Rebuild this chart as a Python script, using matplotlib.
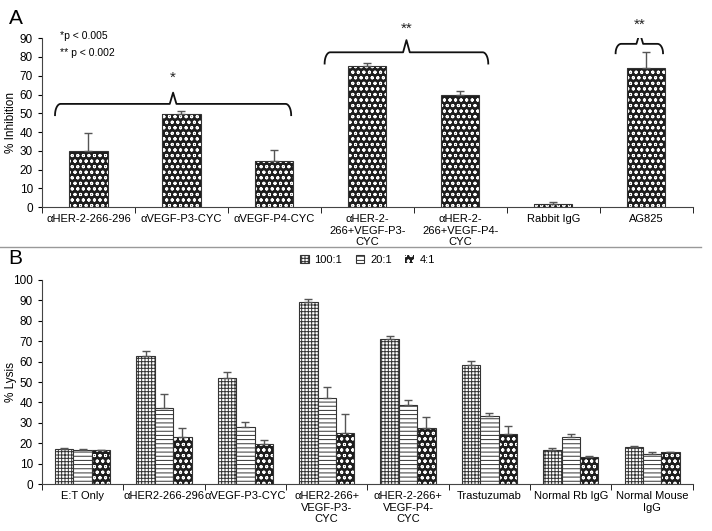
import numpy as np
import matplotlib
matplotlib.use("Agg")
import matplotlib.pyplot as plt

plt.rcParams["font.family"] = ["Liberation Sans", "DejaVu Sans"]
plt.rcParams["hatch.linewidth"] = 0.7

# Panel A: % inhibition
A_LABELS = ["αHER-2-266-296", "αVEGF-P3-CYC", "αVEGF-P4-CYC",
            "αHER-2-\n266+VEGF-P3-\nCYC", "αHER-2-\n266+VEGF-P4-\nCYC",
            "Rabbit IgG", "AG825"]
A_VALUES = [30, 49.5, 24.5, 75, 60, 1.8, 74]
A_ERR = [9.5, 1.5, 6, 1.8, 2, 0.8, 8.5]

# brackets: (x_left, x_right, x_peak, y_end, y_line, y_peak, label, y_label)
A_BRACKETS = [
    (-0.36, 2.18, 0.91, 49, 55, 61, "*", 69),
    (2.54, 4.30, 3.42, 76.5, 82.5, 89, "**", 95),
    (5.67, 6.18, 5.93, 82, 87, 93, "**", 97),
]

# Panel B: % lysis at three E:T ratios
B_LABELS = ["E:T Only", "αHER2-266-296", "αVEGF-P3-CYC",
            "αHER2-266+\nVEGF-P3-\nCYC", "αHER-2-266+\nVEGF-P4-\nCYC",
            "Trastuzumab", "Normal Rb IgG", "Normal Mouse\nIgG"]
B_SERIES = ["100:1", "20:1", "4:1"]
B_100 = [17, 62.7, 52, 89.4, 71, 58.5, 16.7, 18]
B_20 = [16.5, 37.4, 28, 42, 38.7, 33.2, 23.2, 14.7]
B_4 = [16.5, 23, 19.6, 25, 27.6, 24.7, 13.2, 15.5]
B_100_ERR = [0.5, 2.3, 3, 1.1, 1.7, 1.6, 0.8, 0.4]
B_20_ERR = [0.8, 6.6, 2.5, 5.5, 2.5, 1.6, 1.1, 1.1]
B_4_ERR = [0.4, 4.6, 2.1, 9.3, 5.4, 3.7, 0.4, 0.4]

DOTS = "ooo"


def draw_bars(ax, x, h, width, style, label=None):
    if style == "dots":
        bars = ax.bar(x, h, width, color="#1e1e1e", edgecolor="white",
                      hatch=DOTS, linewidth=0, zorder=2, label=label)
        ax.bar(x, h, width, color="none", edgecolor="#333333",
               linewidth=0.8, zorder=3)
    else:
        bars = ax.bar(x, h, width, color="white", edgecolor="#333333",
                      hatch=style, linewidth=0.8, zorder=2, label=label)
    return bars


def draw_errors(ax, x, h, err):
    err = np.asarray(err)
    ax.errorbar(x, h, yerr=[np.zeros_like(err), err], fmt="none",
                ecolor="#555555", elinewidth=1, capsize=3, capthick=1,
                zorder=4)


def style_axes(ax, n, ymax, ystep, ylabel):
    ax.set_xlim(-0.5, n - 0.5)
    ax.set_ylim(0, ymax)
    ax.set_yticks(np.arange(0, ymax + 1, ystep))
    ax.set_xticks(np.arange(n), minor=False)
    ax.tick_params(axis="x", which="major", length=0, labelsize=8, pad=5)
    ax.set_xticks(np.arange(n + 1) - 0.5, minor=True)
    ax.tick_params(axis="x", which="minor", length=4, direction="out")
    ax.tick_params(axis="y", labelsize=8.5, length=3)
    ax.spines["top"].set_visible(False)
    ax.spines["right"].set_visible(False)
    for s in ("left", "bottom"):
        ax.spines[s].set_color("#444444")
    ax.set_ylabel(ylabel, fontsize=8.5)
    ax.yaxis.set_label_coords(-0.039, 0.5)


def bracket(ax, x0, x1, xp, y_end, y_line, y_peak):
    r = 0.06
    ry = (y_line - y_end)
    t = np.linspace(0, np.pi / 2, 15)
    lx = x0 + r * (1 - np.cos(t))
    ly = y_end + ry * np.sin(t)
    mx = [x0 + r, xp - r * 0.6, xp, xp + r * 0.6, x1 - r]
    my = [y_line, y_line, y_peak, y_line, y_line]
    rx = x1 - r * (1 - np.cos(t[::-1]))
    rya = y_end + ry * np.sin(t[::-1])
    xs = np.concatenate([lx, mx, rx])
    ys = np.concatenate([ly, my, rya])
    ax.plot(xs, ys, color="#111111", lw=1.3, zorder=5, solid_joinstyle="round")


fig = plt.figure(figsize=(7.12, 5.31), dpi=100)

# ---- Panel A ----
axA = fig.add_axes([0.059, 0.610, 0.914, 0.318])
xa = np.arange(len(A_LABELS))
draw_bars(axA, xa, A_VALUES, 0.41, "dots")
draw_errors(axA, xa, A_VALUES, A_ERR)
style_axes(axA, len(A_LABELS), 90, 10, "% Inhibition")
axA.set_xticklabels(A_LABELS, va="top")
for x0, x1, xp, ye, yl, yp, lab, ylab in A_BRACKETS:
    bracket(axA, x0, x1, xp, ye, yl, yp)
    axA.text(xp, ylab, lab, ha="center", va="center", fontsize=11,
             color="#222222")
axA.text(-0.31, 91, "*p < 0.005", fontsize=7.5, va="center", clip_on=False)
axA.text(-0.31, 82, "** p < 0.002", fontsize=7.5, va="center")

# ---- Panel B ----
axB = fig.add_axes([0.059, 0.0885, 0.914, 0.3842])
xb = np.arange(len(B_LABELS))
w = 0.226
handles = []
for off, vals, errs, st, name in [(-w, B_100, B_100_ERR, "+++++", B_SERIES[0]),
                                  (0, B_20, B_20_ERR, "----", B_SERIES[1]),
                                  (w, B_4, B_4_ERR, "dots", B_SERIES[2])]:
    handles.append(draw_bars(axB, xb + off, vals, w, st, label=name))
    draw_errors(axB, xb + off, vals, errs)
style_axes(axB, len(B_LABELS), 100, 10, "% Lysis")
axB.set_xticklabels(B_LABELS, va="top")

axB.legend(handles, B_SERIES, loc="center", bbox_to_anchor=(0.5, 1.10),
           ncol=3, frameon=False, fontsize=8, handlelength=0.8,
           handleheight=0.8, columnspacing=1.2, handletextpad=0.5)

# separator and panel labels
fig.add_artist(plt.Line2D([0, 0.985], [0.535, 0.535], color="#999999",
                          lw=1, transform=fig.transFigure))
fig.text(0.012, 0.966, "A", fontsize=15, va="center")
fig.text(0.012, 0.513, "B", fontsize=15, va="center")

fig.savefig("out.png", dpi=100)
